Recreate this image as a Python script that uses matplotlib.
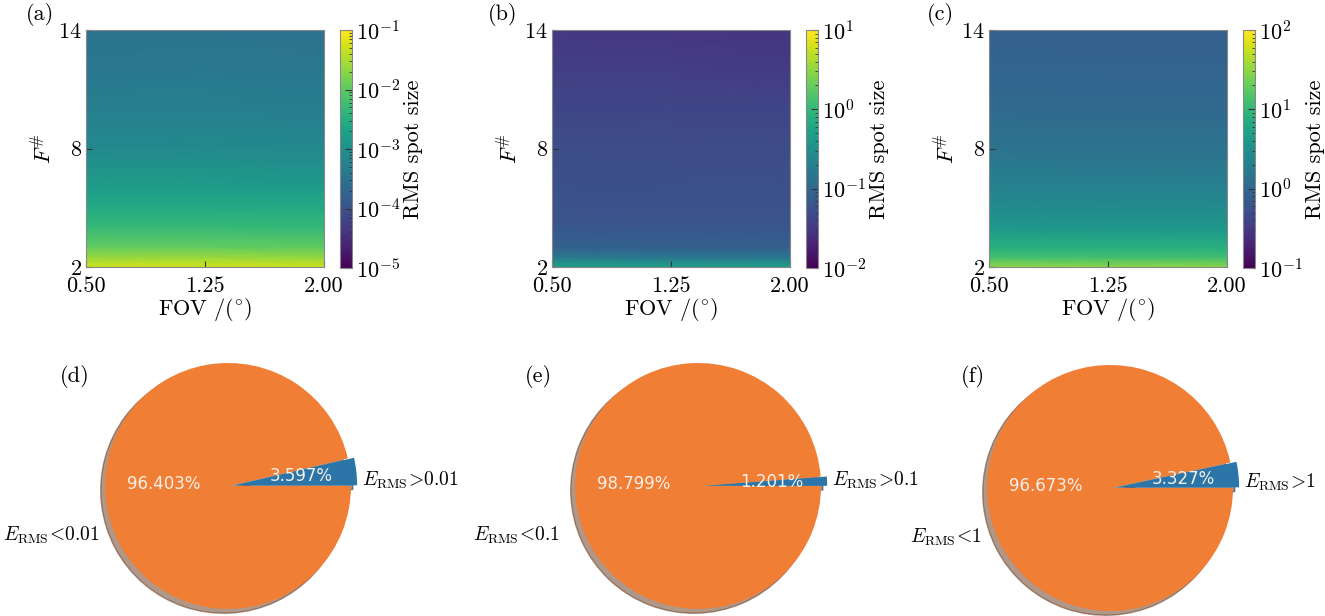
import numpy as np
import matplotlib
matplotlib.use('Agg')
import matplotlib.pyplot as plt
from matplotlib.colors import LogNorm

plt.rcParams['font.family'] = ['cmr10', 'DejaVu Serif']
plt.rcParams['mathtext.fontset'] = 'cm'
plt.rcParams['axes.formatter.use_mathtext'] = True
plt.rcParams['font.size'] = 16

# grid of the maps
fov = [0.5, 1.25, 2.0]
f_number = [2, 2.5, 3, 4, 5, 6, 8, 10, 12, 14]

# RMS spot size per F# row, one column per FOV value
rms_a = [[5.2e-2, 5.4e-2, 5.0e-2],
         [2.3e-2, 2.4e-2, 2.2e-2],
         [1.1e-2, 1.1e-2, 1.05e-2],
         [4.8e-3, 4.9e-3, 4.6e-3],
         [2.7e-3, 2.7e-3, 2.6e-3],
         [1.6e-3, 1.6e-3, 1.5e-3],
         [7.6e-4, 7.8e-4, 7.4e-4],
         [5.2e-4, 5.3e-4, 5.0e-4],
         [4.0e-4, 4.1e-4, 3.9e-4],
         [3.3e-4, 3.4e-4, 3.2e-4]]
rms_b = [[0.55, 0.52, 0.50],
         [0.16, 0.15, 0.15],
         [0.085, 0.083, 0.082],
         [0.065, 0.064, 0.063],
         [0.057, 0.056, 0.056],
         [0.055, 0.054, 0.054],
         [0.050, 0.049, 0.049],
         [0.043, 0.042, 0.041],
         [0.036, 0.035, 0.033],
         [0.031, 0.030, 0.028]]
rms_c = [[31.0, 30.0, 29.0],
         [12.6, 12.3, 12.0],
         [7.8, 7.6, 7.5],
         [3.9, 3.8, 3.8],
         [2.75, 2.7, 2.7],
         [2.1, 2.05, 2.05],
         [1.38, 1.36, 1.35],
         [1.05, 1.04, 1.03],
         [0.91, 0.90, 0.89],
         [0.85, 0.84, 0.83]]
cbar_limits = [(1e-5, 1e-1), (1e-2, 1e1), (1e-1, 1e2)]

# pie data: share of points below / above the threshold
pct_below = [96.403, 98.799, 96.673]
pct_above = [3.597, 1.201, 3.327]
thresholds = ['0.01', '0.1', '1']

fov_ticks = [0.5, 1.25, 2.0]
fov_ticklabels = ['0.50', '1.25', '2.00']
f_ticks = [2, 8, 14]

W, H = 1325, 616
fig = plt.figure(figsize=(W / 100, H / 100), dpi=100)


def px_rect(left, top, right, bottom):
    return [left / W, 1 - bottom / H, (right - left) / W, (bottom - top) / H]


heat_x = [(86, 324), (552, 790), (989, 1227)]
cbar_x = [(340, 352), (806, 818), (1243, 1255)]
for i, rms in enumerate([rms_a, rms_b, rms_c]):
    ax = fig.add_axes(px_rect(heat_x[i][0], 30, heat_x[i][1], 267))
    lo, hi = cbar_limits[i]
    mesh = ax.pcolormesh(fov, f_number, np.array(rms), shading='gouraud',
                         cmap='viridis', norm=LogNorm(vmin=lo, vmax=hi))
    ax.set_xlim(0.5, 2.0)
    ax.set_ylim(2, 14)
    ax.set_xticks(fov_ticks)
    ax.set_xticklabels(fov_ticklabels)
    ax.set_yticks(f_ticks)
    ax.tick_params(direction='in', length=4, color='#333333')
    ax.tick_params(axis='x', pad=7)
    ax.tick_params(axis='y', pad=3)
    for sp in ax.spines.values():
        sp.set_color('#888888')
    ax.set_xlabel(r'FOV /($^{\circ}$)', labelpad=0)
    ax.set_ylabel(r'$F^{\#}$', labelpad=2)

    cax = fig.add_axes(px_rect(cbar_x[i][0], 30, cbar_x[i][1], 268))
    cb = fig.colorbar(mesh, cax=cax)
    cb.outline.set_edgecolor('#888888')
    cax.tick_params(which='both', direction='in', color='#333333', pad=3)
    cax.tick_params(which='major', length=5)
    cax.tick_params(which='minor', length=2.5)
    cb.set_label('RMS spot size', labelpad=2)

# pies
pie_centers = [(228, 486), (698, 486), (1110, 488)]
R = 123
left_label_dx = [-1.04, -1.12, -1.04]
for i in range(3):
    cx, cy = pie_centers[i]
    hw, hh = 1.85 * R, 1.05 * R
    ax = fig.add_axes(px_rect(cx - hw, cy - hh, cx + hw, cy + hh))
    wedges, texts = ax.pie([pct_above[i], pct_below[i]], startangle=0,
                           colors=['#2c75a8', '#f07e35'], explode=[0.05, 0],
                           shadow={'ox': -0.025, 'oy': -0.025, 'shade': 0.6},
                           radius=1)
    wedges[1].set_zorder(2)
    ax.set_xlim(-1.85, 1.85)
    ax.set_ylim(-1.05, 1.05)
    ax.set_aspect('equal')
    ax.axis('off')
    pct_kw = dict(color='#f6efe8', family='DejaVu Sans', fontsize=12,
                  ha='center', va='center', zorder=5)
    mid = np.deg2rad(pct_above[i] * 3.6 / 2)
    ax.text(0.6 * np.cos(mid), 0.6 * np.sin(mid) + 0.01, f'{pct_above[i]:.3f}%', **pct_kw)
    ax.text(-0.52, 0.02, f'{pct_below[i]:.3f}%', **pct_kw)
    ax.text(1.09, 0.05, r'$E_{\mathrm{RMS}}\!>\!' + thresholds[i] + '$',
            ha='left', va='center', fontsize=14)
    ax.text(left_label_dx[i], -0.4, r'$E_{\mathrm{RMS}}\!<\!' + thresholds[i] + '$',
            ha='right', va='center', fontsize=14)

panel_pos = [(40, 15), (503, 15), (940, 15), (75, 377), (538, 377), (973, 377)]
for lab, (x, y) in zip('abcdef', panel_pos):
    fig.text(x / W, 1 - y / H, f'({lab})', ha='center', va='center', fontsize=16)

fig.savefig('out.png', dpi=100)
